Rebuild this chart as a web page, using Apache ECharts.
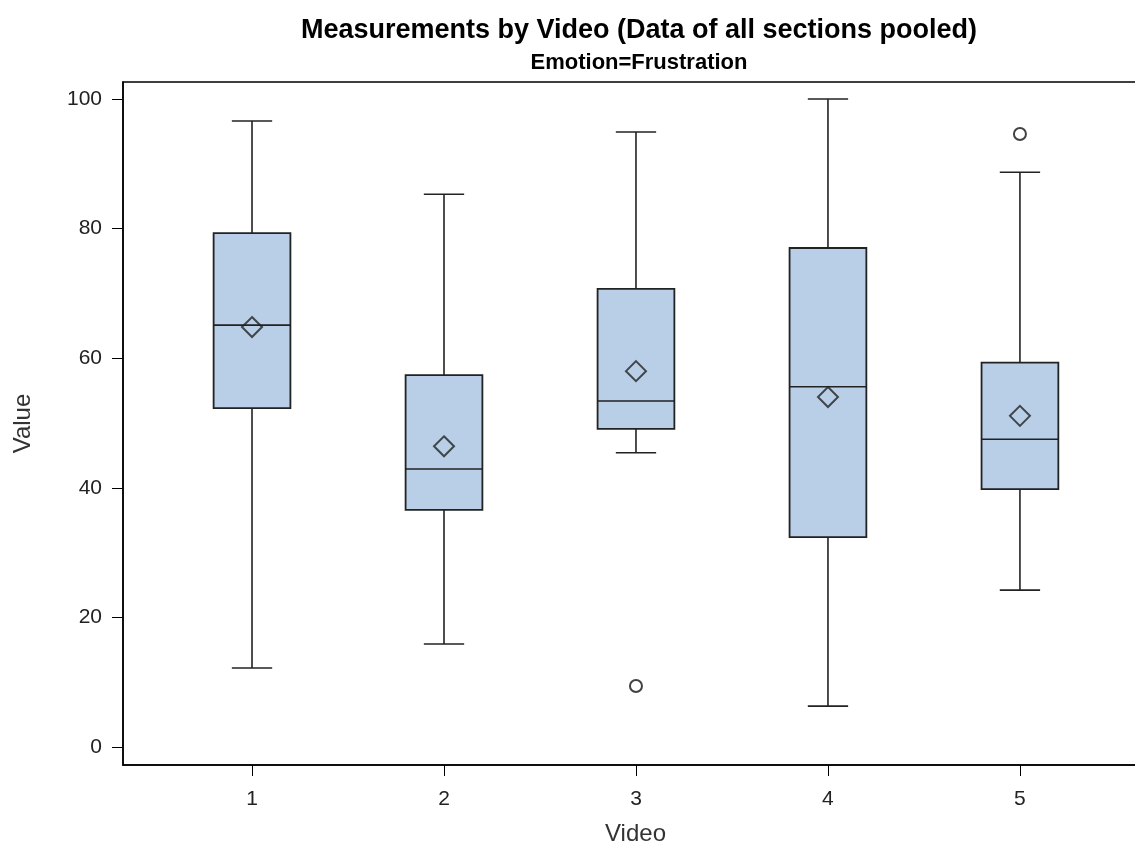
<!DOCTYPE html>
<html>
<head>
<meta charset="utf-8">
<script src="https://cdn.jsdelivr.net/npm/echarts@6/dist/echarts.min.js"></script>
<style>
  html, body { margin: 0; padding: 0; background: #fff; }
  #chart { width: 1135px; height: 845px; }
</style>
</head>
<body>
<div id="chart"></div>
<script>
// values
const videos = [1, 2, 3, 4, 5];
const whiskerLow = [12.2, 15.9, 45.4, 6.3, 24.2];
const q1 = [52.3, 36.6, 49.1, 32.4, 39.8];
const median = [65.1, 42.9, 53.4, 55.6, 47.5];
const q3 = [79.3, 57.4, 70.7, 77.0, 59.3];
const whiskerHigh = [96.6, 85.3, 94.9, 100, 88.7];
const means = [64.8, 46.4, 58.0, 54.0, 51.1];
const outliers = [[3, 9.4], [5, 94.6]];
const yTicks = [0, 20, 40, 60, 80, 100];

const chart = echarts.init(document.getElementById("chart"));

const boxData = videos.map((v, i) => [v, whiskerLow[i], q1[i], median[i], q3[i], whiskerHigh[i]]);
const meanData = videos.map((v, i) => [v, means[i]]);

const FILL = "#b9cfe8";
const STROKE = "#222";
const FONT = "Liberation Sans";

// whiskers, caps, box and median line for one video
function renderBox(params, api) {
  const x = api.value(0);
  const lo = api.coord([x, api.value(1)]);
  const b1 = api.coord([x, api.value(2)]);
  const md = api.coord([x, api.value(3)]);
  const b3 = api.coord([x, api.value(4)]);
  const hi = api.coord([x, api.value(5)]);
  const unit = api.size([1, 0])[0];
  const half = unit * 0.2; // box half width
  const cap = unit * 0.105; // whisker cap half width
  const cx = lo[0];
  const line = { stroke: STROKE, lineWidth: 1.6 };
  return {
    type: "group",
    children: [
      { type: "line", shape: { x1: cx, y1: hi[1], x2: cx, y2: b3[1] }, style: line },
      { type: "line", shape: { x1: cx, y1: b1[1], x2: cx, y2: lo[1] }, style: line },
      { type: "line", shape: { x1: cx - cap, y1: hi[1], x2: cx + cap, y2: hi[1] }, style: line },
      { type: "line", shape: { x1: cx - cap, y1: lo[1], x2: cx + cap, y2: lo[1] }, style: line },
      {
        type: "rect",
        shape: { x: cx - half, y: b3[1], width: half * 2, height: b1[1] - b3[1] },
        style: { fill: FILL, stroke: STROKE, lineWidth: 1.8 }
      },
      { type: "line", shape: { x1: cx - half, y1: md[1], x2: cx + half, y2: md[1] }, style: line }
    ]
  };
}

const option = {
  animation: false,
  title: {
    text: "Measurements by Video (Data of all sections pooled)",
    subtext: "Emotion=Frustration",
    left: 634,
    textAlign: "center",
    top: 12,
    itemGap: 8,
    textStyle: { fontFamily: FONT, fontSize: 27, fontWeight: "bold", color: "#000" },
    subtextStyle: { fontFamily: FONT, fontSize: 22, fontWeight: "bold", color: "#000" }
  },
  grid: {
    left: 123,
    top: 82,
    width: 1025,
    height: 683,
    outerBoundsMode: "none",
    containLabel: false,
    show: true,
    borderColor: "#000",
    borderWidth: 1.5
  },
  xAxis: {
    type: "value",
    min: 0.328,
    max: 5.667,
    name: "Video",
    nameLocation: "middle",
    nameGap: 57,
    nameTextStyle: { fontFamily: FONT, fontSize: 24, color: "#333" },
    splitLine: { show: false },
    axisLine: { show: true, onZero: false, lineStyle: { color: "#000", width: 1.5 } },
    axisTick: { show: true, customValues: videos, length: 11, lineStyle: { color: "#000" } },
    axisLabel: {
      customValues: videos,
      margin: 24,
      fontFamily: FONT,
      fontSize: 21,
      color: "#222"
    }
  },
  yAxis: {
    type: "value",
    min: -2.78,
    max: 102.62,
    name: "Value",
    nameLocation: "middle",
    nameGap: 88,
    nameTextStyle: { fontFamily: FONT, fontSize: 24, color: "#333" },
    splitLine: { show: false },
    axisLine: { show: true, onZero: false, lineStyle: { color: "#000", width: 1.5 } },
    axisTick: { show: true, customValues: yTicks, length: 11, lineStyle: { color: "#000" } },
    axisLabel: {
      customValues: yTicks,
      margin: 21,
      fontFamily: FONT,
      fontSize: 21,
      color: "#222"
    }
  },
  series: [
    {
      type: "custom",
      renderItem: renderBox,
      encode: { x: 0, y: [1, 2, 3, 4, 5] },
      data: boxData,
      z: 2
    },
    {
      type: "scatter",
      data: meanData,
      symbol: "diamond",
      symbolSize: [20, 20],
      itemStyle: { color: "rgba(0,0,0,0)", borderColor: "#222", borderWidth: 2 },
      z: 3
    },
    {
      type: "scatter",
      data: outliers,
      symbol: "circle",
      symbolSize: 12,
      itemStyle: { color: "#fff", borderColor: "#111", borderWidth: 2 },
      z: 3
    }
  ]
};

chart.setOption(option);
</script>
</body>
</html>
